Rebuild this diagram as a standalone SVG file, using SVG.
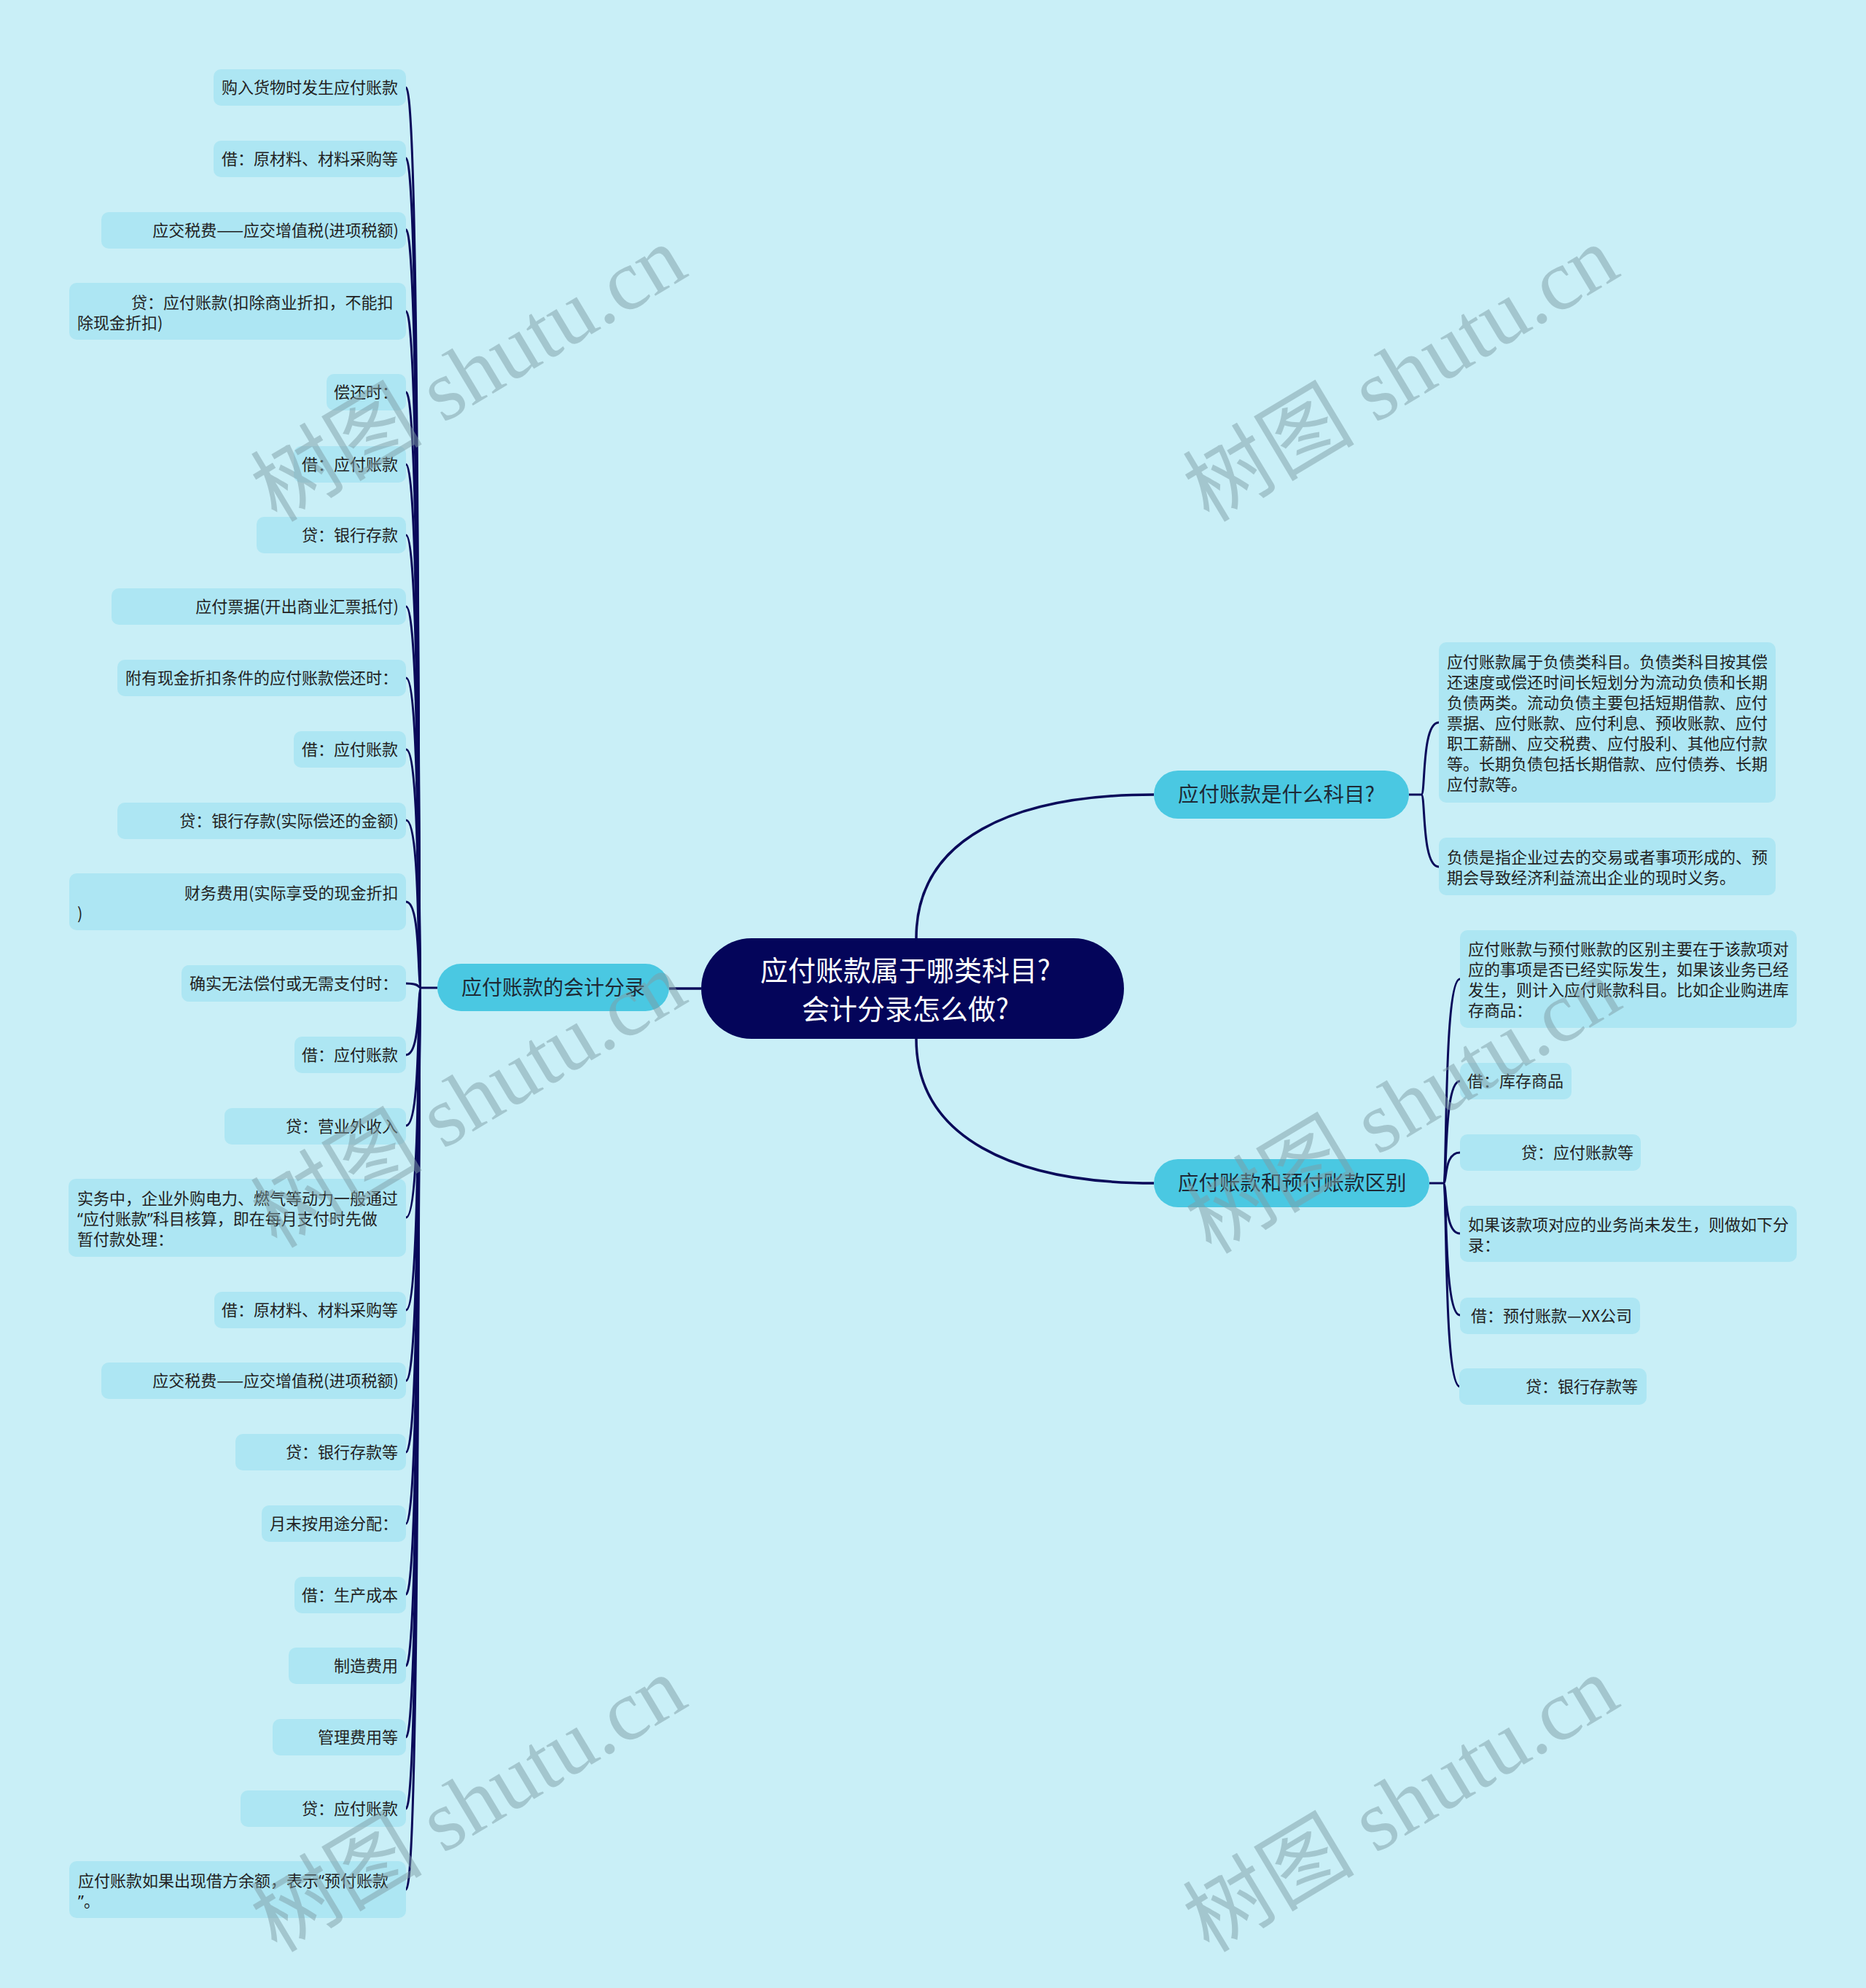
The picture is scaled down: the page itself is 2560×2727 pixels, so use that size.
<svg xmlns="http://www.w3.org/2000/svg" width="2560" height="2727" viewBox="0 0 2560 2727">
<style>
.leaf{fill:#ade6f3}
.br{fill:#4ac8e2}
.t{font-family:"Noto Sans CJK SC","Noto Sans",sans-serif;font-size:22px;fill:#222}
.e{text-anchor:end}
.q{font-family:"Noto Sans",sans-serif}
.bt{font-family:"Noto Sans CJK SC","Noto Sans",sans-serif;fill:#1e2a36}
.rt{font-family:"Noto Sans CJK SC","Noto Sans",sans-serif;font-size:38px;fill:#fff;text-anchor:middle}
.c{fill:none;stroke:#0a0a5a;stroke-width:3}
.c2{fill:none;stroke:#0a0a5a;stroke-width:3.5}
.wm{font-family:"Liberation Serif","Noto Sans CJK SC",serif;font-size:118px;fill:#7f9ea6;opacity:0.5;text-anchor:middle}
</style>
<rect x="0" y="0" width="2560" height="2727" fill="#c9eff7"/>

<g id="connectors">
<path class="c2" d="M962 1356 L918 1356"/>
<path class="c2" d="M1257 1287 C1257 1150 1390 1090 1583 1090"/>
<path class="c2" d="M1257 1425 C1257 1560 1390 1623 1583 1623"/>
<path class="c" d="M600 1355 L578 1355"/>
<path class="c" d="M578 1355 C572 1355 578 120 557 120"/>
<path class="c" d="M578 1355 C572 1355 578 217 557 217"/>
<path class="c" d="M578 1355 C572 1355 578 315 557 315"/>
<path class="c" d="M578 1355 C572 1355 578 427 557 427"/>
<path class="c" d="M578 1355 C572 1355 578 538 557 538"/>
<path class="c" d="M578 1355 C572 1355 578 637 557 637"/>
<path class="c" d="M578 1355 C572 1355 578 734 557 734"/>
<path class="c" d="M578 1355 C572 1355 578 832 557 832"/>
<path class="c" d="M578 1355 C572 1355 578 930 557 930"/>
<path class="c" d="M578 1355 C572 1355 578 1028 557 1028"/>
<path class="c" d="M578 1355 C572 1355 578 1125 557 1125"/>
<path class="c" d="M578 1355 C572 1355 578 1237 557 1237"/>
<path class="c" d="M578 1355 C572 1355 578 1349 557 1349"/>
<path class="c" d="M578 1355 C572 1355 578 1447 557 1447"/>
<path class="c" d="M578 1355 C572 1355 578 1544 557 1544"/>
<path class="c" d="M578 1355 C572 1355 578 1670 557 1670"/>
<path class="c" d="M578 1355 C572 1355 578 1797 557 1797"/>
<path class="c" d="M578 1355 C572 1355 578 1894 557 1894"/>
<path class="c" d="M578 1355 C572 1355 578 1992 557 1992"/>
<path class="c" d="M578 1355 C572 1355 578 2090 557 2090"/>
<path class="c" d="M578 1355 C572 1355 578 2187 557 2187"/>
<path class="c" d="M578 1355 C572 1355 578 2285 557 2285"/>
<path class="c" d="M578 1355 C572 1355 578 2383 557 2383"/>
<path class="c" d="M578 1355 C572 1355 578 2481 557 2481"/>
<path class="c" d="M578 1355 C572 1355 578 2592 557 2592"/>
<path class="c" d="M1933 1090 L1950 1090"/>
<path class="c" d="M1950 1090 C1956 1090 1950 991 1974 991"/>
<path class="c" d="M1950 1090 C1956 1090 1950 1189 1974 1189"/>
<path class="c" d="M1961 1623 L1980 1623"/>
<path class="c" d="M1980 1623 C1986 1623 1980 1343 2003 1343"/>
<path class="c" d="M1980 1623 C1986 1623 1980 1483 2003 1483"/>
<path class="c" d="M1980 1623 C1986 1623 1980 1581 2003 1581"/>
<path class="c" d="M1980 1623 C1986 1623 1980 1692 2003 1692"/>
<path class="c" d="M1980 1623 C1986 1623 1980 1804 2003 1804"/>
<path class="c" d="M1980 1623 C1986 1623 1980 1902 2003 1902"/>
</g>

<g id="root">
<rect x="962" y="1287" width="580" height="138" rx="69" fill="#04055a"/>
<text class="rt" x="1242" y="1345">应付账款属于哪类科目?</text>
<text class="rt" x="1242" y="1398">会计分录怎么做?</text>
</g>

<g id="branch-left">
<rect class="br" x="600" y="1322" width="318" height="65" rx="32.5"/>
<text class="bt" x="759" y="1365" font-size="28" text-anchor="middle">应付账款的会计分录</text>
</g>
<g id="branch-r1">
<rect class="br" x="1583" y="1057" width="350" height="66" rx="33"/>
<text class="bt" x="1616" y="1100" font-size="28.5">应付账款是什么科目?</text>
</g>
<g id="branch-r2">
<rect class="br" x="1583" y="1590" width="378" height="66" rx="33"/>
<text class="bt" x="1616" y="1633" font-size="28.5">应付账款和预付账款区别</text>
</g>

<g id="l1"><rect class="leaf" x="293" y="95" width="264" height="50" rx="10"/><text class="t e" x="546" y="128">购入货物时发生应付账款</text></g>
<g id="l2"><rect class="leaf" x="293" y="193" width="264" height="50" rx="10"/><text class="t e" x="546" y="226">借：原材料、材料采购等</text></g>
<g id="l3"><rect class="leaf" x="139" y="291" width="418" height="50" rx="10"/><text class="t e" x="547" y="324">应交税费——应交增值税(进项税额)</text></g>
<g id="l4"><rect class="leaf" x="95" y="388" width="462" height="78" rx="10"/><text class="t" x="180" y="423">贷：应付账款(扣除商业折扣，不能扣</text><text class="t" x="106" y="451">除现金折扣)</text></g>
<g id="l5"><rect class="leaf" x="448" y="513" width="109" height="50" rx="10"/><text class="t e" x="546" y="546">偿还时：</text></g>
<g id="l6"><rect class="leaf" x="403" y="612" width="154" height="50" rx="10"/><text class="t e" x="546" y="645">借：应付账款</text></g>
<g id="l7"><rect class="leaf" x="352" y="709" width="205" height="50" rx="10"/><text class="t e" x="546" y="742">贷：银行存款</text></g>
<g id="l8"><rect class="leaf" x="153" y="807" width="404" height="50" rx="10"/><text class="t e" x="547" y="840">应付票据(开出商业汇票抵付)</text></g>
<g id="l9"><rect class="leaf" x="161" y="905" width="396" height="50" rx="10"/><text class="t e" x="546" y="938">附有现金折扣条件的应付账款偿还时：</text></g>
<g id="l10"><rect class="leaf" x="403" y="1003" width="154" height="50" rx="10"/><text class="t e" x="546" y="1036">借：应付账款</text></g>
<g id="l11"><rect class="leaf" x="161" y="1101" width="396" height="50" rx="10"/><text class="t e" x="547" y="1134">贷：银行存款(实际偿还的金额)</text></g>
<g id="l12"><rect class="leaf" x="95" y="1198" width="462" height="78" rx="10"/><text class="t" x="253" y="1233">财务费用(实际享受的现金折扣</text><text class="t" x="106" y="1261">)</text></g>
<g id="l13"><rect class="leaf" x="249" y="1324" width="308" height="50" rx="10"/><text class="t e" x="546" y="1357">确实无法偿付或无需支付时：</text></g>
<g id="l14"><rect class="leaf" x="404" y="1422" width="153" height="50" rx="10"/><text class="t e" x="546" y="1455">借：应付账款</text></g>
<g id="l15"><rect class="leaf" x="308" y="1520" width="249" height="50" rx="10"/><text class="t e" x="546" y="1553">贷：营业外收入</text></g>
<g id="l16"><rect class="leaf" x="94" y="1617" width="463" height="107" rx="10"/><text class="t" x="106" y="1652">实务中，企业外购电力、燃气等动力一般通过</text><text class="t" x="106" y="1680"><tspan class="q">“</tspan>应付账款<tspan class="q">”</tspan>科目核算，即在每月支付时先做</text><text class="t" x="106" y="1708">暂付款处理：</text></g>
<g id="l17"><rect class="leaf" x="294" y="1772" width="263" height="50" rx="10"/><text class="t e" x="546" y="1805">借：原材料、材料采购等</text></g>
<g id="l18"><rect class="leaf" x="139" y="1869" width="418" height="50" rx="10"/><text class="t e" x="547" y="1902">应交税费——应交增值税(进项税额)</text></g>
<g id="l19"><rect class="leaf" x="323" y="1967" width="234" height="50" rx="10"/><text class="t e" x="546" y="2000">贷：银行存款等</text></g>
<g id="l20"><rect class="leaf" x="359" y="2065" width="198" height="50" rx="10"/><text class="t e" x="546" y="2098">月末按用途分配：</text></g>
<g id="l21"><rect class="leaf" x="404" y="2163" width="153" height="50" rx="10"/><text class="t e" x="546" y="2196">借：生产成本</text></g>
<g id="l22"><rect class="leaf" x="396" y="2260" width="161" height="50" rx="10"/><text class="t e" x="546" y="2293">制造费用</text></g>
<g id="l23"><rect class="leaf" x="374" y="2358" width="183" height="50" rx="10"/><text class="t e" x="546" y="2391">管理费用等</text></g>
<g id="l24"><rect class="leaf" x="330" y="2456" width="227" height="50" rx="10"/><text class="t e" x="546" y="2489">贷：应付账款</text></g>
<g id="l25"><rect class="leaf" x="95" y="2553" width="462" height="78" rx="10"/><text class="t" x="107" y="2588">应付账款如果出现借方余额，表示<tspan class="q">“</tspan>预付账款</text><text class="t" x="107" y="2616"><tspan class="q">”</tspan>。</text></g>

<g id="r1a"><rect class="leaf" x="1974" y="881" width="462" height="220" rx="10"/>
<text class="t" x="1985" y="916">应付账款属于负债类科目。负债类科目按其偿</text>
<text class="t" x="1985" y="944">还速度或偿还时间长短划分为流动负债和长期</text>
<text class="t" x="1985" y="972">负债两类。流动负债主要包括短期借款、应付</text>
<text class="t" x="1985" y="1000">票据、应付账款、应付利息、预收账款、应付</text>
<text class="t" x="1985" y="1028">职工薪酬、应交税费、应付股利、其他应付款</text>
<text class="t" x="1985" y="1056">等。长期负债包括长期借款、应付债券、长期</text>
<text class="t" x="1985" y="1084">应付款等。</text></g>
<g id="r1b"><rect class="leaf" x="1974" y="1149" width="462" height="79" rx="10"/>
<text class="t" x="1985" y="1184">负债是指企业过去的交易或者事项形成的、预</text>
<text class="t" x="1985" y="1212">期会导致经济利益流出企业的现时义务。</text></g>

<g id="r2a"><rect class="leaf" x="2003" y="1276" width="462" height="134" rx="10"/>
<text class="t" x="2014" y="1310">应付账款与预付账款的区别主要在于该款项对</text>
<text class="t" x="2014" y="1338">应的事项是否已经实际发生，如果该业务已经</text>
<text class="t" x="2014" y="1366">发生，则计入应付账款科目。比如企业购进库</text>
<text class="t" x="2014" y="1394">存商品：</text></g>
<g id="r2b"><rect class="leaf" x="2003" y="1458" width="153" height="50" rx="10"/><text class="t e" x="2145" y="1491">借：库存商品</text></g>
<g id="r2c"><rect class="leaf" x="2003" y="1556" width="248" height="50" rx="10"/><text class="t e" x="2241" y="1589">贷：应付账款等</text></g>
<g id="r2d"><rect class="leaf" x="2003" y="1654" width="462" height="77" rx="10"/>
<text class="t" x="2014" y="1688">如果该款项对应的业务尚未发生，则做如下分</text>
<text class="t" x="2014" y="1716">录：</text></g>
<g id="r2e"><rect class="leaf" x="2003" y="1780" width="247" height="50" rx="10"/><text class="t e" x="2239" y="1813">借：预付账款—XX公司</text></g>
<g id="r2f"><rect class="leaf" x="2002" y="1877" width="257" height="50" rx="10"/><text class="t e" x="2247" y="1910">贷：银行存款等</text></g>

<g id="watermarks">
<text class="wm" transform="translate(643 513) rotate(-31)" y="40">树图 shutu.cn</text>
<text class="wm" transform="translate(1922 513) rotate(-31)" y="40">树图 shutu.cn</text>
<text class="wm" transform="translate(643 1509) rotate(-31)" y="40">树图 shutu.cn</text>
<text class="wm" transform="translate(1925 1517) rotate(-31)" y="40">树图 shutu.cn</text>
<text class="wm" transform="translate(643 2475) rotate(-31)" y="40">树图 shutu.cn</text>
<text class="wm" transform="translate(1922 2475) rotate(-31)" y="40">树图 shutu.cn</text>
</g>
</svg>
